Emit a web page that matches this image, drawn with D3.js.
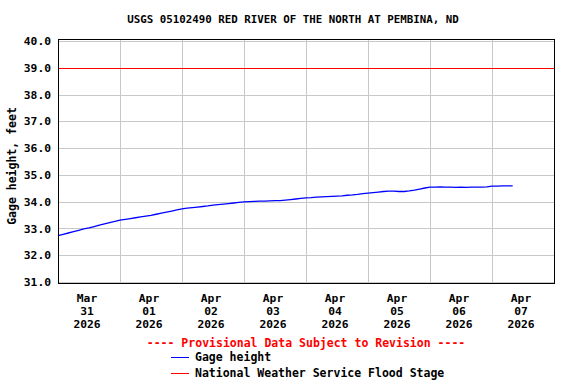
<!DOCTYPE html>
<html>
<head>
<meta charset="utf-8">
<script src="https://cdn.jsdelivr.net/npm/d3@7"></script>
<style>
  body { margin: 0; background: #fff; }
  svg text { font-family: "DejaVu Sans Mono", monospace; font-weight: bold; }
</style>
</head>
<body>
<svg id="chart" width="576" height="384"></svg>
<script>
var title = "USGS 05102490 RED RIVER OF THE NORTH AT PEMBINA, ND";
var yLabel = "Gage height, feet";
var provisional = "---- Provisional Data Subject to Revision ----";
var floodStage = 39.0;
var yTicks = [31, 32, 33, 34, 35, 36, 37, 38, 39, 40];
var dayTicks = ["2026-03-31", "2026-04-01", "2026-04-02", "2026-04-03",
                "2026-04-04", "2026-04-05", "2026-04-06", "2026-04-07"];
var legendNames = ["Gage height", "National Weather Service Flood Stage"];
var legendColors = ["#0000ff", "#ff0000"];

// gage height every 2 hours, starting Mar 31 2026 00:00
var gageStart = new Date(2026, 2, 31, 0, 0);
var gageHeight = [
  32.73, 32.78, 32.83, 32.88, 32.93, 32.98, 33.02, 33.07, 33.12, 33.17, 33.22, 33.26,
  33.31, 33.34, 33.37, 33.40, 33.43, 33.46, 33.49, 33.53, 33.57, 33.61, 33.65, 33.69,
  33.73, 33.76, 33.78, 33.80, 33.82, 33.84, 33.87, 33.89, 33.91, 33.93, 33.95, 33.97,
  33.99, 34.00, 34.01, 34.02, 34.02, 34.03, 34.04, 34.04, 34.06, 34.08, 34.10, 34.12,
  34.14, 34.15, 34.17, 34.18, 34.19, 34.20, 34.21, 34.22, 34.24, 34.25, 34.27, 34.30,
  34.32, 34.34, 34.36, 34.38, 34.39, 34.39, 34.38, 34.38, 34.40, 34.43, 34.47, 34.51,
  34.54, 34.54, 34.55, 34.54, 34.54, 34.53, 34.54, 34.53, 34.54, 34.54, 34.54, 34.55,
  34.58, 34.58, 34.59, 34.59, 34.59
];

var data = gageHeight.map(function(v, i) {
  return {time: new Date(gageStart.getTime() + i * 2 * 3600 * 1000), value: v};
});

var svg = d3.select("#chart");
var plotLeft = 58, plotRight = 554, plotTop = 41, plotBottom = 282;

var x = d3.scaleTime()
    .domain([new Date(2026, 2, 31), new Date(2026, 3, 8)])
    .range([plotLeft, plotRight]);
var y = d3.scaleLinear().domain([31, 40]).range([plotBottom, plotTop]);

function px(v) { return Math.round(v) + 0.5; }

// grid
var gridDays = d3.timeDay.range(new Date(2026, 3, 1), new Date(2026, 3, 8));
svg.append("g").selectAll("line").data(gridDays).enter().append("line")
    .attr("x1", function(d) { return px(x(d)); })
    .attr("x2", function(d) { return px(x(d)); })
    .attr("y1", 40).attr("y2", 283)
    .attr("stroke", "#c8c8c8").attr("stroke-width", 1);
svg.append("g").selectAll("line").data(yTicks).enter().append("line")
    .attr("x1", plotLeft).attr("x2", plotRight)
    .attr("y1", function(d) { return px(y(d)); })
    .attr("y2", function(d) { return px(y(d)); })
    .attr("stroke", "#c8c8c8").attr("stroke-width", 1);

// flood stage
svg.append("line")
    .attr("x1", plotLeft).attr("x2", plotRight)
    .attr("y1", px(y(floodStage))).attr("y2", px(y(floodStage)))
    .attr("stroke", "red").attr("stroke-width", 1);

// gage line
var line = d3.line()
    .x(function(d) { return x(d.time); })
    .y(function(d) { return y(d.value); });
svg.append("path").datum(data)
    .attr("fill", "none")
    .attr("stroke", "blue")
    .attr("stroke-width", 1.3)
    .attr("d", line);

// frame
svg.append("rect")
    .attr("x", plotLeft + 0.5).attr("y", 39.5)
    .attr("width", plotRight - plotLeft).attr("height", 244)
    .attr("fill", "none").attr("stroke", "#000").attr("stroke-width", 1);

// y axis labels
var yAxis = d3.axisLeft(y).tickValues(yTicks).tickSize(0).tickPadding(7)
    .tickFormat(d3.format(".1f"));
var gy = svg.append("g").attr("transform", "translate(" + plotLeft + ",0)").call(yAxis);
gy.select(".domain").remove();
gy.selectAll("text").attr("font-size", 11.3).attr("fill", "#000")
    .style("font-family", "DejaVu Sans Mono").style("font-weight", "bold");

// x axis labels, three lines each at noon
var fmtMon = d3.timeFormat("%b"), fmtDay = d3.timeFormat("%d"), fmtYear = d3.timeFormat("%Y");
var noons = dayTicks.map(function(s) {
  var p = s.split("-");
  return new Date(+p[0], +p[1] - 1, +p[2], 12);
});
var gx = svg.append("g").selectAll("text").data(noons).enter().append("text")
    .attr("text-anchor", "middle")
    .attr("font-size", 11.3)
    .attr("fill", "#000");
[fmtMon, fmtDay, fmtYear].forEach(function(f, i) {
  gx.append("tspan")
    .attr("x", function(d) { return x(d) - 2; })
    .attr("y", 302 + i * 13)
    .text(function(d) { return f(d); });
});

// title
svg.append("text")
    .attr("x", 293).attr("y", 23)
    .attr("text-anchor", "middle")
    .attr("font-size", 10.8)
    .text(title);

// y label
svg.append("text")
    .attr("transform", "translate(16,166) rotate(-90)")
    .attr("text-anchor", "middle")
    .attr("font-size", 11.5)
    .text(yLabel);

// provisional note
svg.append("text")
    .attr("x", 306).attr("y", 347)
    .attr("text-anchor", "middle")
    .attr("font-size", 11.5)
    .attr("fill", "red")
    .text(provisional);

// legend
legendNames.forEach(function(name, i) {
  var ly = 357 + i * 16;
  svg.append("rect")
      .attr("x", 171).attr("y", ly)
      .attr("width", 18).attr("height", 1)
      .style("fill", legendColors[i]);
  svg.append("text")
      .attr("x", 195).attr("y", ly + 4)
      .attr("font-size", 11.5)
      .attr("fill", "#000")
      .text(name);
});
</script>
</body>
</html>
